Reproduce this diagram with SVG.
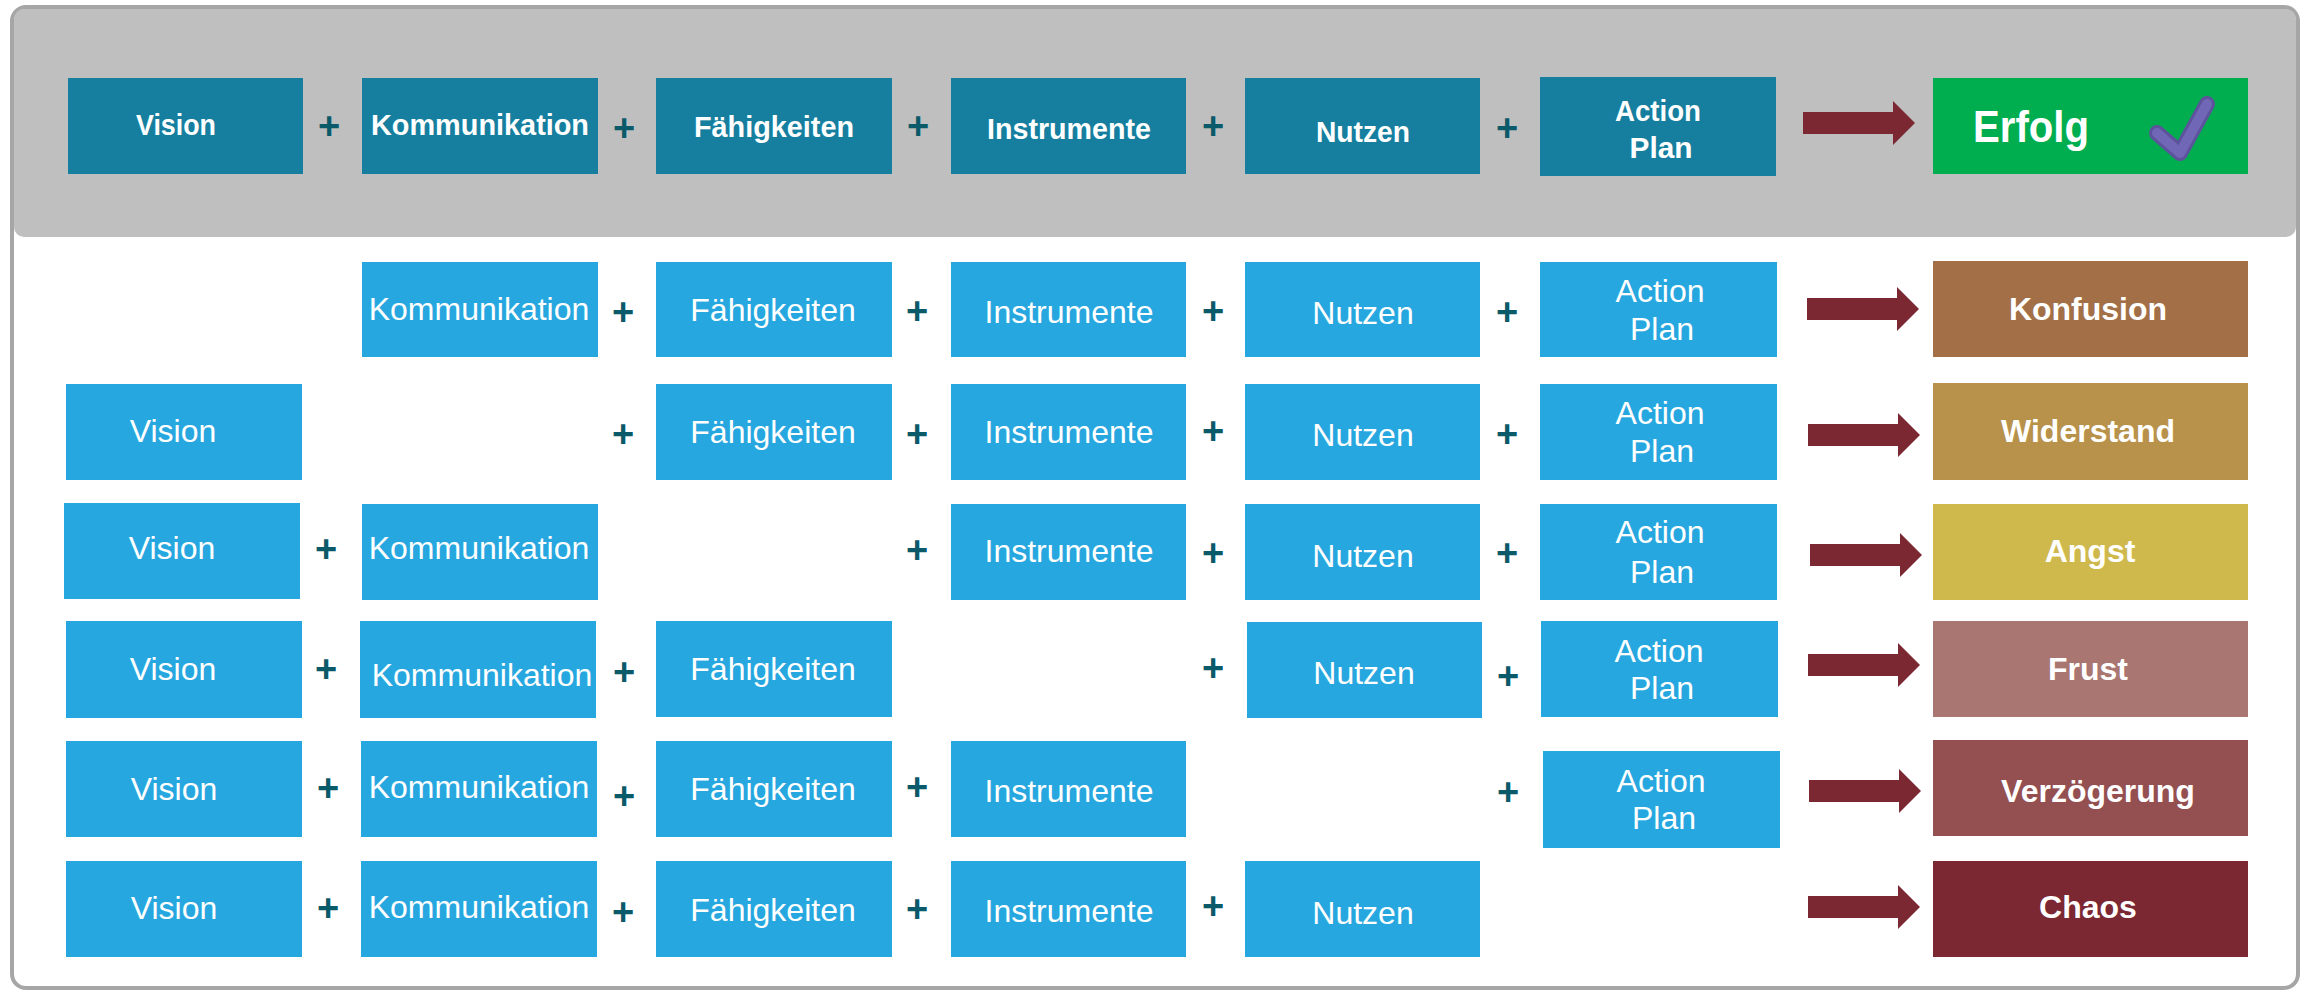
<svg xmlns="http://www.w3.org/2000/svg" width="2305" height="992" viewBox="0 0 2305 992">
<defs>
<style>
.dk{fill:#167fa0}
.lt{fill:#27a7df}
.tt{font-family:"Liberation Sans",Arial,sans-serif;font-weight:bold;font-size:30px;fill:#ffffff;text-anchor:middle}
.lb{font-family:"Liberation Sans",Arial,sans-serif;font-size:32px;fill:#ffffff;text-anchor:middle}
.rs{font-family:"Liberation Sans",Arial,sans-serif;font-weight:bold;font-size:32px;fill:#ffffff;text-anchor:middle}
.pl{font-family:"Liberation Sans",Arial,sans-serif;font-weight:bold;font-size:38px;fill:#0b5a6a;text-anchor:middle}
.ar{fill:#7b2832}
</style>
<polygon id="arr" points="0,-11 90,-11 90,-22 112,0 90,22 90,11 0,11"/>
</defs>
<rect x="12" y="7" width="2286" height="981" rx="14" fill="#ffffff" stroke="#a6a6a6" stroke-width="4"/>
<rect x="14" y="9" width="2282" height="228" rx="10" fill="#bfbfbf"/>

<!-- top row -->
<g id="top-vision"><rect class="dk" x="68" y="78" width="235" height="96"/><text class="tt" x="176" y="135" textLength="80" lengthAdjust="spacingAndGlyphs">Vision</text></g>
<g id="top-kommunikation"><rect class="dk" x="362" y="78" width="236" height="96"/><text class="tt" x="480" y="135" textLength="218" lengthAdjust="spacingAndGlyphs">Kommunikation</text></g>
<g id="top-faehigkeiten"><rect class="dk" x="656" y="78" width="236" height="96"/><text class="tt" x="774" y="137" textLength="160" lengthAdjust="spacingAndGlyphs">Fähigkeiten</text></g>
<g id="top-instrumente"><rect class="dk" x="951" y="78" width="235" height="96"/><text class="tt" x="1069" y="139" textLength="164" lengthAdjust="spacingAndGlyphs">Instrumente</text></g>
<g id="top-nutzen"><rect class="dk" x="1245" y="78" width="235" height="96"/><text class="tt" x="1363" y="142" textLength="94" lengthAdjust="spacingAndGlyphs">Nutzen</text></g>
<g id="top-actionplan"><rect class="dk" x="1540" y="77" width="236" height="99"/><text class="tt" x="1658" y="121" textLength="86" lengthAdjust="spacingAndGlyphs">Action</text><text class="tt" x="1661" y="158" textLength="63" lengthAdjust="spacingAndGlyphs">Plan</text></g>
<g id="erfolg"><rect x="1933" y="78" width="315" height="96" fill="#00ae50"/><text class="tt" style="font-size:44px;text-anchor:start" x="1973" y="142" textLength="116" lengthAdjust="spacingAndGlyphs">Erfolg</text>
<path d="M2157,133 L2180,153 L2207,104" fill="none" stroke="#5d539c" stroke-width="16" stroke-linecap="round" stroke-linejoin="round"/>
<path d="M2157,133 L2180,153 L2207,104" fill="none" stroke="#7068b6" stroke-width="10" stroke-linecap="round" stroke-linejoin="round"/></g>

<!-- row 1 -->
<g id="r1-kommunikation"><rect class="lt" x="362" y="262" width="236" height="95"/><text class="lb" x="479" y="320">Kommunikation</text></g>
<g id="r1-faehigkeiten"><rect class="lt" x="656" y="262" width="236" height="95"/><text class="lb" x="773" y="321">Fähigkeiten</text></g>
<g id="r1-instrumente"><rect class="lt" x="951" y="262" width="235" height="95"/><text class="lb" x="1069" y="323">Instrumente</text></g>
<g id="r1-nutzen"><rect class="lt" x="1245" y="262" width="235" height="95"/><text class="lb" x="1363" y="324">Nutzen</text></g>
<g id="r1-actionplan"><rect class="lt" x="1540" y="262" width="237" height="95"/><text class="lb" x="1660" y="302">Action</text><text class="lb" x="1662" y="340">Plan</text></g>
<g id="konfusion"><rect x="1933" y="261" width="315" height="96" fill="#a36f47"/><text class="rs" x="2088" y="320">Konfusion</text></g>

<!-- row 2 -->
<g id="r2-vision"><rect class="lt" x="66" y="384" width="236" height="96"/><text class="lb" x="173" y="442">Vision</text></g>
<g id="r2-faehigkeiten"><rect class="lt" x="656" y="384" width="236" height="96"/><text class="lb" x="773" y="443">Fähigkeiten</text></g>
<g id="r2-instrumente"><rect class="lt" x="951" y="384" width="235" height="96"/><text class="lb" x="1069" y="443">Instrumente</text></g>
<g id="r2-nutzen"><rect class="lt" x="1245" y="384" width="235" height="96"/><text class="lb" x="1363" y="446">Nutzen</text></g>
<g id="r2-actionplan"><rect class="lt" x="1540" y="384" width="237" height="96"/><text class="lb" x="1660" y="424">Action</text><text class="lb" x="1662" y="462">Plan</text></g>
<g id="widerstand"><rect x="1933" y="383" width="315" height="97" fill="#b8924b"/><text class="rs" x="2088" y="442">Widerstand</text></g>

<!-- row 3 -->
<g id="r3-vision"><rect class="lt" x="64" y="503" width="236" height="96"/><text class="lb" x="172" y="559">Vision</text></g>
<g id="r3-kommunikation"><rect class="lt" x="362" y="504" width="236" height="96"/><text class="lb" x="479" y="559">Kommunikation</text></g>
<g id="r3-instrumente"><rect class="lt" x="951" y="504" width="235" height="96"/><text class="lb" x="1069" y="562">Instrumente</text></g>
<g id="r3-nutzen"><rect class="lt" x="1245" y="504" width="235" height="96"/><text class="lb" x="1363" y="567">Nutzen</text></g>
<g id="r3-actionplan"><rect class="lt" x="1540" y="504" width="237" height="96"/><text class="lb" x="1660" y="543">Action</text><text class="lb" x="1662" y="583">Plan</text></g>
<g id="angst"><rect x="1933" y="504" width="315" height="96" fill="#cfb94d"/><text class="rs" x="2090" y="562">Angst</text></g>

<!-- row 4 -->
<g id="r4-vision"><rect class="lt" x="66" y="621" width="236" height="97"/><text class="lb" x="173" y="680">Vision</text></g>
<g id="r4-kommunikation"><rect class="lt" x="360" y="621" width="236" height="97"/><text class="lb" x="482" y="686">Kommunikation</text></g>
<g id="r4-faehigkeiten"><rect class="lt" x="656" y="621" width="236" height="96"/><text class="lb" x="773" y="680">Fähigkeiten</text></g>
<g id="r4-nutzen"><rect class="lt" x="1247" y="622" width="235" height="96"/><text class="lb" x="1364" y="684">Nutzen</text></g>
<g id="r4-actionplan"><rect class="lt" x="1541" y="621" width="237" height="96"/><text class="lb" x="1659" y="662">Action</text><text class="lb" x="1662" y="699">Plan</text></g>
<g id="frust"><rect x="1933" y="621" width="315" height="96" fill="#a97671"/><text class="rs" x="2088" y="680">Frust</text></g>

<!-- row 5 -->
<g id="r5-vision"><rect class="lt" x="66" y="741" width="236" height="96"/><text class="lb" x="174" y="800">Vision</text></g>
<g id="r5-kommunikation"><rect class="lt" x="361" y="741" width="236" height="96"/><text class="lb" x="479" y="798">Kommunikation</text></g>
<g id="r5-faehigkeiten"><rect class="lt" x="656" y="741" width="236" height="96"/><text class="lb" x="773" y="800">Fähigkeiten</text></g>
<g id="r5-instrumente"><rect class="lt" x="951" y="741" width="235" height="96"/><text class="lb" x="1069" y="802">Instrumente</text></g>
<g id="r5-actionplan"><rect class="lt" x="1543" y="751" width="237" height="97"/><text class="lb" x="1661" y="792">Action</text><text class="lb" x="1664" y="829">Plan</text></g>
<g id="verzoegerung"><rect x="1933" y="740" width="315" height="96" fill="#944f51"/><text class="rs" x="2098" y="802">Verzögerung</text></g>

<!-- row 6 -->
<g id="r6-vision"><rect class="lt" x="66" y="861" width="236" height="96"/><text class="lb" x="174" y="919">Vision</text></g>
<g id="r6-kommunikation"><rect class="lt" x="361" y="861" width="236" height="96"/><text class="lb" x="479" y="918">Kommunikation</text></g>
<g id="r6-faehigkeiten"><rect class="lt" x="656" y="861" width="236" height="96"/><text class="lb" x="773" y="921">Fähigkeiten</text></g>
<g id="r6-instrumente"><rect class="lt" x="951" y="861" width="235" height="96"/><text class="lb" x="1069" y="922">Instrumente</text></g>
<g id="r6-nutzen"><rect class="lt" x="1245" y="861" width="235" height="96"/><text class="lb" x="1363" y="924">Nutzen</text></g>
<g id="chaos"><rect x="1933" y="861" width="315" height="96" fill="#7b2832"/><text class="rs" x="2088" y="918">Chaos</text></g>

<!-- plus operators -->
<g id="operators">
<text class="pl" x="329" y="139">+</text><text class="pl" x="624" y="141">+</text><text class="pl" x="918" y="139">+</text><text class="pl" x="1213" y="139">+</text><text class="pl" x="1507" y="141">+</text>
<text class="pl" x="623" y="325">+</text><text class="pl" x="917" y="324">+</text><text class="pl" x="1213" y="324">+</text><text class="pl" x="1507" y="325">+</text>
<text class="pl" x="623" y="447">+</text><text class="pl" x="917" y="447">+</text><text class="pl" x="1213" y="444">+</text><text class="pl" x="1507" y="447">+</text>
<text class="pl" x="326" y="562">+</text><text class="pl" x="917" y="563">+</text><text class="pl" x="1213" y="566">+</text><text class="pl" x="1507" y="566">+</text>
<text class="pl" x="326" y="682">+</text><text class="pl" x="624" y="685">+</text><text class="pl" x="1213" y="681">+</text><text class="pl" x="1508" y="689">+</text>
<text class="pl" x="328" y="801">+</text><text class="pl" x="624" y="809">+</text><text class="pl" x="917" y="800">+</text><text class="pl" x="1508" y="805">+</text>
<text class="pl" x="328" y="921">+</text><text class="pl" x="623" y="925">+</text><text class="pl" x="917" y="922">+</text><text class="pl" x="1213" y="919">+</text>
</g>

<!-- connectors -->
<g id="connectors" class="ar">
<use href="#arr" x="1803" y="123"/>
<use href="#arr" x="1807" y="309"/>
<use href="#arr" x="1808" y="435"/>
<use href="#arr" x="1810" y="555"/>
<use href="#arr" x="1808" y="665"/>
<use href="#arr" x="1809" y="791"/>
<use href="#arr" x="1808" y="907"/>
</g>
</svg>
